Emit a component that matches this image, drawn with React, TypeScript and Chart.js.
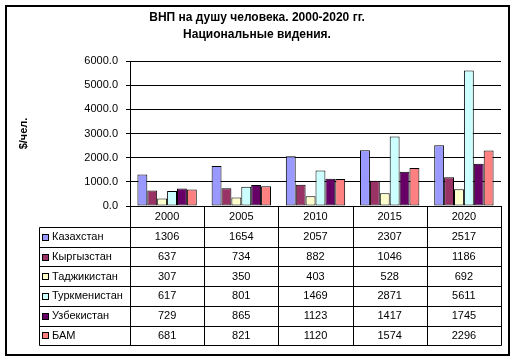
import React, { useEffect, useRef } from "react";
import { Chart, registerables } from "chart.js";

Chart.register(...registerables);

const categories = ["2000", "2005", "2010", "2015", "2020"];
const seriesNames = ["Казахстан", "Кыргызстан", "Таджикистан", "Туркменистан", "Узбекистан", "БАМ"];
const kazakhstan = [1306, 1654, 2057, 2307, 2517];
const kyrgyzstan = [637, 734, 882, 1046, 1186];
const tajikistan = [307, 350, 403, 528, 692];
const turkmenistan = [617, 801, 1469, 2871, 5611];
const uzbekistan = [729, 865, 1123, 1417, 1745];
const bam = [681, 821, 1120, 1574, 2296];
const seriesColors = ["#9999FF", "#993366", "#FFFFCC", "#CCFFFF", "#660066", "#FF8080"];
const titleLines = ["ВНП на душу человека. 2000-2020 гг.", "Национальные видения."];
const yAxisTitle = "$/чел.";
const yMin = 0;
const yMax = 6000;
const yStep = 1000;

const FONT = "'Liberation Sans', Arial, sans-serif";

const tablePlugin = {
  id: "dataTable",
  beforeDraw(chart: any) {
    const ctx = chart.ctx;
    ctx.save();
    ctx.fillStyle = "#ffffff";
    ctx.fillRect(0, 0, chart.width, chart.height);
    ctx.restore();
  },
  afterDraw(chart: any) {
    const ctx = chart.ctx;
    const xs = chart.scales.x;
    const area = chart.chartArea;
    const n = categories.length;
    const half = (xs.getPixelForValue(1) - xs.getPixelForValue(0)) / 2;
    const bounds: number[] = [];
    for (let i = 0; i < n; i++) bounds.push(xs.getPixelForValue(i) - half);
    bounds.push(xs.getPixelForValue(n - 1) + half);
    const al = (v: number) => Math.round(v) + 0.5;

    const top = area.bottom;
    const headerH = 21;
    const rowH = 19.7;
    const tableLeft = 39;
    const rowsTop = top + headerH;
    const datasets = chart.data.datasets;
    const bottom = rowsTop + rowH * datasets.length;

    ctx.save();
    ctx.strokeStyle = "#000";
    ctx.lineWidth = 1;
    ctx.beginPath();
    // vertical lines
    for (let i = 0; i <= n; i++) {
      ctx.moveTo(al(bounds[i]), top);
      ctx.lineTo(al(bounds[i]), al(bottom));
    }
    ctx.moveTo(al(tableLeft), al(rowsTop));
    ctx.lineTo(al(tableLeft), al(bottom));
    // horizontal lines
    for (let r = 0; r <= datasets.length; r++) {
      const y = al(rowsTop + r * rowH);
      ctx.moveTo(al(tableLeft), y);
      ctx.lineTo(al(bounds[n]), y);
    }
    ctx.stroke();

    ctx.fillStyle = "#000";
    ctx.font = "11px " + FONT;
    ctx.textBaseline = "middle";
    ctx.textAlign = "center";
    for (let i = 0; i < n; i++) {
      ctx.fillText(categories[i], (bounds[i] + bounds[i + 1]) / 2, top + headerH / 2 + 0.5);
    }
    datasets.forEach((ds: any, r: number) => {
      const cy = rowsTop + r * rowH + rowH / 2 + 0.5;
      ds.data.forEach((v: number, i: number) => {
        ctx.textAlign = "center";
        ctx.fillStyle = "#000";
        ctx.fillText(String(v), (bounds[i] + bounds[i + 1]) / 2, cy);
      });
      // legend key
      const sy = Math.round(cy - 3.5);
      ctx.fillStyle = ds.backgroundColor;
      ctx.fillRect(42, sy, 7, 7);
      ctx.strokeStyle = "#000";
      ctx.strokeRect(42.5, sy + 0.5, 6, 6);
      ctx.fillStyle = "#000";
      ctx.textAlign = "left";
      ctx.fillText(ds.label, 52, cy);
    });

    // outer border
    ctx.lineWidth = 2;
    ctx.strokeRect(6, 6, 503, 349);
    ctx.restore();
  },
};

export default function App() {
  const ref = useRef<HTMLCanvasElement>(null);
  useEffect(() => {
    document.body.style.margin = "0";
    const values = [kazakhstan, kyrgyzstan, tajikistan, turkmenistan, uzbekistan, bam];
    const chart = new Chart(ref.current as HTMLCanvasElement, {
      type: "bar",
      data: {
        labels: categories,
        datasets: values.map((d, i) => ({
          label: seriesNames[i],
          data: d,
          backgroundColor: seriesColors[i],
          borderColor: "#000",
          borderWidth: 1,
          borderSkipped: false,
          categoryPercentage: 0.8,
          barPercentage: 1.0,
        })),
      },
      options: {
        responsive: false,
        animation: false,
        devicePixelRatio: 1,
        layout: { padding: { left: 13, right: 16, top: 0, bottom: 156 } },
        plugins: {
          legend: { display: false },
          tooltip: { enabled: false },
          title: {
            display: true,
            text: titleLines,
            color: "#000",
            font: { family: FONT, size: 12, weight: "bold", lineHeight: 17 / 12 },
            padding: { top: 9.5, bottom: 17.5 },
          },
        },
        scales: {
          x: { display: false },
          y: {
            min: yMin,
            max: yMax,
            afterFit: (s: any) => {
              s.width = 117;
            },
            ticks: {
              stepSize: yStep,
              color: "#000",
              padding: 8,
              font: { family: FONT, size: 11 },
              callback: (v: any) => Number(v).toFixed(1),
            },
            grid: { color: "#000", lineWidth: 1, tickLength: 4, drawTicks: true },
            border: { display: true, color: "#000", width: 1 },
            title: {
              display: true,
              text: yAxisTitle,
              color: "#000",
              font: { family: FONT, size: 11, weight: "bold" },
            },
          },
        },
      },
      plugins: [tablePlugin],
    });
    return () => chart.destroy();
  }, []);
  return <canvas ref={ref} width={517} height={362} style={{ display: "block" }} />;
}
